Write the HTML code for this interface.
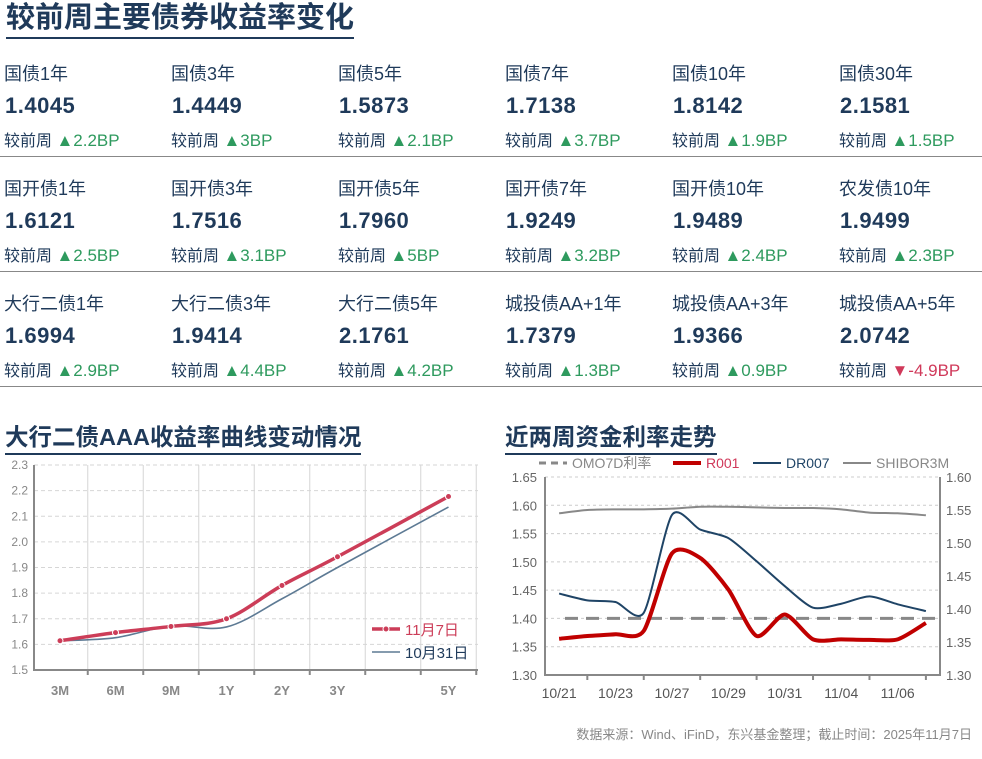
<!DOCTYPE html>
<html><head><meta charset="utf-8">
<style>
body{margin:0;width:982px;height:759px;background:#fff;font-family:"Liberation Sans","Noto Sans CJK SC",sans-serif;position:relative;overflow:hidden}
.abs{position:absolute;white-space:nowrap}
.title{color:#1f3a5a;font-weight:bold;border-bottom:2px solid #1f3a5a}
.nm{font-size:18px;color:#1f3a5a}
.val{font-size:22px;font-weight:bold;color:#1f3a5a;letter-spacing:0.5px}
.chg{font-size:16px;color:#1f3a5a}
.up{color:#2e9a5e;font-size:17px}
.dn{color:#d0395a;font-size:17px}
.sep{position:absolute;left:0;width:982px;height:1px;background:#888}
svg text{font-family:"Liberation Sans","Noto Sans CJK SC",sans-serif}
</style></head><body>
<div class="abs title" style="left:6px;top:1px;font-size:29px;line-height:35px;padding:0 0 1px 0">较前周主要债券收益率变化</div>
<div id="grid"></div>
<div class="sep" style="top:156px"></div>
<div class="sep" style="top:271px"></div>
<div class="sep" style="top:386px"></div>

<div class="abs title" style="left:5px;top:422px;font-size:23.5px;line-height:31px">大行二债AAA收益率曲线变动情况</div>
<div class="abs title" style="left:505px;top:422px;font-size:23.5px;line-height:31px">近两周资金利率走势</div>
<div class="abs" style="right:10px;top:724px;font-size:13px;color:#888">数据来源：Wind、iFinD，东兴基金整理；截止时间：2025年11月7日</div>

<svg id="c1" class="abs" style="left:0;top:450px" width="490" height="260"></svg>
<svg id="c2" class="abs" style="left:495px;top:450px" width="487" height="260"></svg>

<script>
const bondNames=[["国债1年","国债3年","国债5年","国债7年","国债10年","国债30年"],["国开债1年","国开债3年","国开债5年","国开债7年","国开债10年","农发债10年"],["大行二债1年","大行二债3年","大行二债5年","城投债AA+1年","城投债AA+3年","城投债AA+5年"]];
const bondVals=[["1.4045","1.4449","1.5873","1.7138","1.8142","2.1581"],["1.6121","1.7516","1.7960","1.9249","1.9489","1.9499"],["1.6994","1.9414","2.1761","1.7379","1.9366","2.0742"]];
const bondChg=[[2.2,3,2.1,3.7,1.9,1.5],[2.5,3.1,5,3.2,2.4,2.3],[2.9,4.4,4.2,1.3,0.9,-4.9]];
const g=document.getElementById('grid');
for(let r=0;r<3;r++)for(let c=0;c<6;c++){
 const x=4+c*167,y=60+r*115;
 const d=document.createElement('div');d.className='abs';d.style.left=x+'px';d.style.top=y+'px';
 
 
 const v=bondChg[r][c];
 const s=v>=0?'<span class="up">▲'+v+'BP</span>':'<span class="dn">▼'+v+'BP</span>';
 d.innerHTML='<div class="abs nm" style="top:0">'+bondNames[r][c]+'</div><div class="abs val" style="top:33px;left:1px">'+bondVals[r][c]+'</div><div class="abs chg" style="top:67px">较前周 '+s+'</div>';
 g.appendChild(d);
}
const NS='http://www.w3.org/2000/svg';
function el(p,t,a){const e=document.createElementNS(NS,t);for(const k in a)e.setAttribute(k,a[k]);p.appendChild(e);return e;}
function smooth(pts,t){t=t||6;let d='M'+pts[0][0]+','+pts[0][1];for(let i=0;i<pts.length-1;i++){const p0=pts[i-1]||pts[i],p1=pts[i],p2=pts[i+1],p3=pts[i+2]||p2;d+=' C'+(p1[0]+(p2[0]-p0[0])/t)+','+(p1[1]+(p2[1]-p0[1])/t)+' '+(p2[0]-(p3[0]-p1[0])/t)+','+(p2[1]-(p3[1]-p1[1])/t)+' '+p2[0]+','+p2[1];}return d;}

// Chart 1
const tenors=["3M","6M","9M","1Y","2Y","3Y","5Y"];
const tenorSlot=[0,1,2,3,4,5,7];
const curveNov7=[1.614,1.646,1.670,1.700,1.830,1.942,2.177];
const curveOct31=[1.614,1.626,1.672,1.668,1.778,1.900,2.136];
const yTicks1=[1.5,1.6,1.7,1.8,1.9,2.0,2.1,2.2,2.3];
(function(){
 const s=document.getElementById('c1');
 const X=i=>60+55.5*i, Y=v=>220-(v-1.5)/0.8*205;
 yTicks1.forEach(v=>{if(v>1.5){const l=el(s,'line',{x1:34,x2:478,y1:Y(v),y2:Y(v),stroke:'#d6d6d6','stroke-dasharray':'4,3'});}
  const t=el(s,'text',{x:28,y:Y(v)+4,'text-anchor':'end','font-size':12,fill:'#888'});t.textContent=v.toFixed(1);});
 for(let i=0;i<8;i++){const x=X(i+0.5);el(s,'line',{x1:x,x2:x,y1:15,y2:220,stroke:'#d6d6d6'});el(s,'line',{x1:x,x2:x,y1:220,y2:225,stroke:'#888','stroke-width':2});}
 el(s,'line',{x1:34,x2:34,y1:15,y2:221,stroke:'#888','stroke-width':2});
 el(s,'line',{x1:33,x2:478,y1:220,y2:220,stroke:'#888','stroke-width':2});
 tenors.forEach((n,i)=>{const t=el(s,'text',{x:X(tenorSlot[i]),y:245,'text-anchor':'middle','font-size':13,'font-weight':'bold',fill:'#888'});t.textContent=n;});
 const p2=el(s,'path',{d:smooth(curveOct31.map((v,i)=>[X(tenorSlot[i]),Y(v)])),fill:'none',stroke:'#5d7a94','stroke-width':1.6});
 
 const p1=el(s,'path',{d:smooth(curveNov7.map((v,i)=>[X(tenorSlot[i]),Y(v)])),fill:'none',stroke:'#cc3d58','stroke-width':3.5});
 
 curveNov7.forEach((v,i)=>{const c=el(s,'circle',{cx:X(tenorSlot[i]),cy:Y(v),r:3,fill:'#cc3d58',stroke:'#fff','stroke-width':1});});
 el(s,'line',{x1:372,x2:400,y1:179,y2:179,stroke:'#cc3d58','stroke-width':3.5});el(s,'circle',{cx:386,cy:179,r:3,fill:'#cc3d58',stroke:'#fff'});
 let t=el(s,'text',{x:405,y:185,'font-size':15,fill:'#cc3d58'});t.textContent='11月7日';
 el(s,'line',{x1:372,x2:400,y1:202,y2:202,stroke:'#5d7a94','stroke-width':1.6});
 t=el(s,'text',{x:405,y:208,'font-size':15,fill:'#1f3a5a'});t.textContent='10月31日';
})();

// Chart 2
const dates=["10/21","10/22","10/23","10/24","10/27","10/28","10/29","10/30","10/31","11/03","11/04","11/05","11/06","11/07"];
const r001=[1.364,1.369,1.372,1.378,1.515,1.507,1.451,1.369,1.407,1.363,1.363,1.362,1.363,1.392];
const dr007=[1.444,1.432,1.429,1.410,1.583,1.557,1.542,1.501,1.457,1.419,1.426,1.439,1.425,1.413];
const shibor3m=[1.545,1.550,1.551,1.551,1.552,1.555,1.555,1.554,1.553,1.553,1.551,1.546,1.545,1.542];
const omo7d=1.40;
const yTicksL=[1.30,1.35,1.40,1.45,1.50,1.55,1.60,1.65];
const yTicksR=[1.30,1.35,1.40,1.45,1.50,1.55,1.60];
(function(){
 const s=document.getElementById('c2');
 const L=50,R=445,T=27,B=225;
 const X=i=>L+(i+0.5)*(R-L)/14, YL=v=>B-(v-1.30)/0.35*(B-T), YR=v=>B-(v-1.30)/0.30*(B-T);
 yTicksL.forEach(v=>{if(v>1.30){el(s,'line',{x1:L,x2:R,y1:YL(v),y2:YL(v),stroke:'#ccc','stroke-dasharray':'3,3'});}
  const t=el(s,'text',{x:L-8,y:YL(v)+5,'text-anchor':'end','font-size':13,fill:'#666'});t.textContent=v.toFixed(2);});
 yTicksR.forEach(v=>{const t=el(s,'text',{x:R+6,y:YR(v)+5,'font-size':13,fill:'#666'});t.textContent=v.toFixed(2);});
 el(s,'line',{x1:L,x2:L,y1:T,y2:B+1,stroke:'#888','stroke-width':2});
 el(s,'line',{x1:R,x2:R,y1:T,y2:B+1,stroke:'#888','stroke-width':2});
 el(s,'line',{x1:L,x2:R,y1:B,y2:B,stroke:'#888','stroke-width':2});
 dates.forEach((d,i)=>{if(i%2===0){el(s,'line',{x1:X(i)+(R-L)/28*2,x2:X(i)+(R-L)/28*2,y1:B,y2:B+5,stroke:'#888','stroke-width':2});
  const t=el(s,'text',{x:X(i),y:B+23,'text-anchor':'middle','font-size':14,fill:'#555'});t.textContent=d;}});
 let p=el(s,'line',{x1:L+20,x2:R-5,y1:YL(omo7d),y2:YL(omo7d),stroke:'#888','stroke-width':3,'stroke-dasharray':'13,8'});
 p=el(s,'path',{d:smooth(shibor3m.map((v,i)=>[X(i),YR(v)]),8),fill:'none',stroke:'#888','stroke-width':2});
 p=el(s,'path',{d:smooth(dr007.map((v,i)=>[X(i),YL(v)]),8),fill:'none',stroke:'#1f4466','stroke-width':2});
 p=el(s,'path',{d:smooth(r001.map((v,i)=>[X(i),YL(v)]),8),fill:'none',stroke:'#c00000','stroke-width':4});
 const lg=[[44,'OMO7D利率','#888','#888',3,'7,5'],[178,'R001','#c00000','#d0395a',4,''],[258,'DR007','#1f4466','#1f4466',2,''],[348,'SHIBOR3M','#888','#888',2,'']];
 lg.forEach(o=>{el(s,'line',{x1:o[0],x2:o[0]+28,y1:13,y2:13,stroke:o[2],'stroke-width':o[4],'stroke-dasharray':o[5]});
  const t=el(s,'text',{x:o[0]+33,y:18,'font-size':14,fill:o[3]});t.textContent=o[1];});
})();
</script>
</body></html>
